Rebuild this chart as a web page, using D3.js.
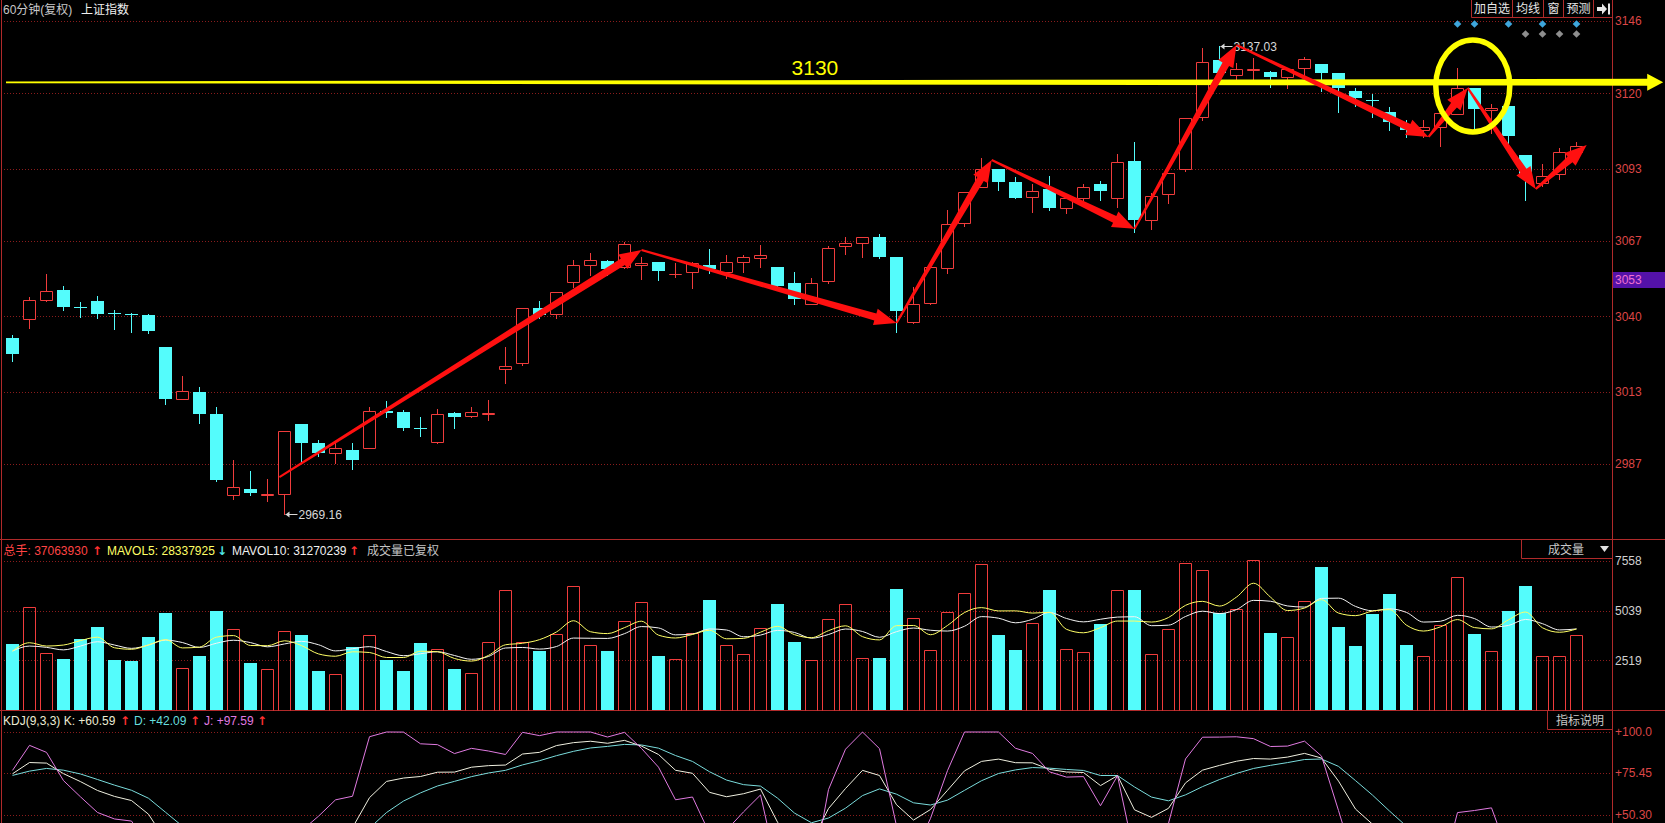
<!DOCTYPE html>
<html><head><meta charset="utf-8">
<script src="https://cdn.jsdelivr.net/npm/d3@7"></script>
<style>
html,body{margin:0;padding:0;background:#000;overflow:hidden;}
svg{display:block;font-family:"Liberation Sans",Arial,"Noto Sans CJK SC",sans-serif;}
</style></head><body>
<svg id="c" width="1665" height="823"></svg>
<script>
// ---------------- DATA ----------------
const opens  = [3032.4,3039.2,3046.0,3049.4,3043.2,3045.5,3041.2,3041.0,3040.5,3029.0,
  3010.4,3012.8,3004.9,2975.7,2978.2,2975.9,2976.4,3001.3,2994.7,2990.8,
  2992.2,2992.9,3006.2,3005.8,2999.8,2995.0,3005.2,3004.1,3005.1,3021.2,
  3023.1,3042.9,3040.7,3052.5,3058.5,3059.7,3057.8,3058.3,3059.4,3055.1,
  3055.8,3058.6,3056.0,3059.4,3060.8,3057.7,3051.8,3044.6,3052.8,3065.4,
  3066.4,3068.3,3061.3,3038.1,3044.9,3057.5,3073.4,3086.5,3092.9,3088.1,
  3082.7,3085.6,3078.8,3082.6,3087.5,3082.4,3095.8,3074.4,3083.8,3092.9,
  3111.5,3132.0,3126.5,3128.4,3127.7,3126.0,3129.0,3130.6,3127.5,3121.0,
  3117.6,3113.5,3109.1,3106.9,3107.9,3112.5,3121.9,3114.1,3115.5,3097.9,
  3088.0,3091.1,3099.1];
const highs  = [3033.3,3046.8,3055.2,3050.9,3045.1,3047.3,3042.3,3041.3,3040.8,3029.0,
  3018.6,3014.6,3007.5,2988.4,2984.6,2981.5,2998.7,3001.5,2995.5,2995.0,
  2994.7,3007.5,3009.5,3006.4,3003.7,3006.7,3005.8,3007.4,3009.8,3029.1,
  3042.9,3045.5,3048.6,3060.2,3062.6,3060.2,3066.8,3061.4,3059.4,3059.3,
  3059.6,3064.2,3062.0,3062.0,3065.6,3057.7,3055.8,3053.9,3065.2,3068.6,
  3068.3,3069.5,3061.3,3050.6,3057.7,3078.2,3084.5,3096.7,3092.9,3089.9,
  3087.4,3090.4,3082.6,3087.5,3088.4,3098.3,3102.5,3084.2,3091.3,3111.1,
  3136.2,3137.03,3130.8,3132.6,3128.0,3129.0,3133.2,3130.6,3127.5,3121.9,
  3119.7,3115.0,3110.5,3110.5,3112.9,3129.0,3121.9,3116.2,3115.5,3097.9,
  3094.7,3100.3,3102.7];
const lows   = [3024.1,3035.9,3045.6,3042.3,3039.9,3039.5,3035.4,3034.5,3033.9,3008.4,
  3010.4,3001.8,2980.9,2974.3,2975.7,2973.7,2969.16,2988.0,2989.8,2987.4,
  2985.2,2992.9,3003.7,2999.2,2997.1,2994.4,3000.0,3003.7,3002.8,3015.9,
  3022.5,3039.5,3039.3,3050.6,3054.8,3054.8,3057.2,3053.3,3053.0,3054.2,
  3050.0,3055.4,3053.9,3056.0,3057.6,3050.6,3044.3,3044.4,3052.1,3062.4,
  3061.4,3060.8,3034.5,3037.5,3044.6,3055.7,3072.4,3086.5,3085.3,3082.6,
  3077.6,3078.2,3077.2,3081.8,3081.8,3079.4,3070.4,3071.2,3080.6,3092.0,
  3110.5,3127.5,3125.1,3124.9,3122.2,3121.9,3124.9,3120.7,3113.5,3115.5,
  3111.5,3106.7,3104.5,3104.5,3101.2,3112.5,3107.5,3105.7,3101.5,3081.8,
  3086.6,3089.2,3098.5];
const closes = [3026.6,3045.7,3049.2,3043.5,3043.0,3041.0,3041.0,3040.9,3034.8,3010.3,
  3013.1,3005.0,2981.3,2978.6,2976.6,2976.1,2998.7,2994.7,2990.8,2992.9,
  2988.5,3006.2,3005.4,3000.0,2999.5,3004.9,3003.7,3005.8,3005.3,3022.2,
  3042.9,3040.3,3048.6,3058.3,3060.2,3057.1,3065.8,3059.0,3056.4,3055.3,
  3059.0,3056.9,3059.4,3061.2,3062.0,3051.0,3046.1,3051.8,3064.4,3066.2,
  3068.3,3061.4,3042.0,3044.6,3057.7,3073.0,3084.5,3092.8,3088.3,3082.6,
  3085.1,3078.8,3082.6,3086.5,3085.1,3095.3,3074.4,3083.2,3091.3,3111.1,
  3131.2,3127.5,3128.7,3128.6,3125.8,3128.7,3132.3,3127.5,3121.9,3118.3,
  3117.3,3109.7,3106.9,3107.9,3112.9,3121.9,3114.3,3114.9,3104.9,3090.2,
  3090.5,3098.9,3101.2];
const volumes = [3345,5221,2873,2585,3582,4207,2534,2484,3700,4917,
  2112,2737,5018,4089,2399,2061,3987,3802,1977,1808,
  3193,3802,2534,1977,3396,3075,2078,1875,3430,6083,
  3463,2990,3835,6269,3295,2990,4511,5457,2737,2568,
  3886,5576,3295,2839,4139,5373,3463,2534,4613,5373,
  2619,2636,6150,4663,3024,4968,5913,7400,3819,3041,
  4410,6100,3092,2940,4342,6083,6100,2839,4089,7434,
  7097,4900,5120,7603,3903,3700,5525,7249,4207,3244,
  4883,5880,3295,2720,4309,6725,3852,2974,5018,6285,
  2720,2720,3802];
// moving-average values at the start of the window (need bars before the first one)
const ma5Head  = [2990,3412,3244,3295];
const ma10Head = [2990,3244,3177,3050,3244,3463,3295,3126,3295];
// KDJ values at the first bar
const kdjStartK = 75, kdjStartD = 74;

const priceTicks  = [3146,3120,3093,3067,3040,3013,2987];
const volumeTicks = [7558,5039,2519];
const kdjTicks    = [100,75.45,50.30];
const kdjTickLabels = ["+100.0","+75.45","+50.30"];
const currentPrice = 3053;

// annotations (candle index, price)
const zigzag = [[15.7,2982.3],[37.0,3063.8],[52.0,3037.6],[57.6,3096.1],[66.0,3071.4],
                [72.0,3137.4],[83.3,3104.4],[85.6,3122.0],[89.6,3085.7],[92.6,3101.5]];
const resistanceLevel = 3124, resistanceText = "3130", resistanceFrom = -0.38, resistanceTo = 97.1, resistanceTextAt = 47.2;
const circleCenter = [85.9, 3122.7];
const lowMark  = {i:16, v:2969.16, t:"2969.16"};
const highMark = {i:71, v:3137.03, t:"3137.03"};
const blueSignals = [85,86,88,90,92];
const greySignals = [89,90,91,92];

const titleText = ["60分钟(复权)", "上证指数"];
const buttons = ["加自选","均线","窗","预测"];

// ---------------- LAYOUT ----------------
const W=1665, H=823, axisX=1612;
const RED="#f03c3c", CYAN="#54fcfc", GRID="#8a1c1c", FRAME="#b02a2a", AXT="#dc4646";
const svg=d3.select("#c");
svg.append("rect").attr("width",W).attr("height",H).attr("fill","#000");

const n=closes.length;
const x  = d3.scaleLinear().domain([0,n-1]).range([12.5,12.5+17*(n-1)]);
const yP = d3.scaleLinear().domain([2987,3146]).range([464,21]);
const yV = d3.scaleLinear().domain([0,7558]).range([710,561]);
const yK = d3.scaleLinear().domain([50.3,100]).range([815,732]);

const data = closes.map((c,i)=>({i,o:opens[i],h:highs[i],l:lows[i],c,v:volumes[i],up:c>=opens[i]}));

// grids
const gridG=svg.append("g");
[[priceTicks,yP],[volumeTicks,yV],[kdjTicks,yK]].forEach(([t,s])=>{
  gridG.append("g").selectAll("line").data(t).join("line")
    .attr("x1",4).attr("x2",axisX)
    .attr("y1",d=>Math.round(s(d))+0.5).attr("y2",d=>Math.round(s(d))+0.5)
    .attr("stroke",GRID).attr("stroke-dasharray","1,2");
});

// frame lines
const fr=svg.append("g").attr("stroke",FRAME).attr("stroke-width",1);
fr.append("line").attr("x1",axisX+0.5).attr("x2",axisX+0.5).attr("y1",0).attr("y2",H);
fr.append("line").attr("x1",1.5).attr("x2",1.5).attr("y1",0).attr("y2",H);
fr.append("line").attr("x1",0).attr("x2",W).attr("y1",539.5).attr("y2",539.5);
fr.append("line").attr("x1",0).attr("x2",W).attr("y1",710.5).attr("y2",710.5);

// axes
function styleAxis(g,col){
  g.select(".domain").remove();
  g.selectAll("text").attr("fill",col).attr("font-size",12).attr("font-family","Liberation Sans, Arial, sans-serif");
}
svg.append("g").attr("transform",`translate(${axisX},0)`)
  .call(d3.axisRight(yP).tickValues(priceTicks).tickSize(0).tickPadding(3).tickFormat(d3.format("d")))
  .call(g=>styleAxis(g,AXT));
svg.append("g").attr("transform",`translate(${axisX},0)`)
  .call(d3.axisRight(yV).tickValues(volumeTicks).tickSize(0).tickPadding(3).tickFormat(d3.format("d")))
  .call(g=>styleAxis(g,"#d0d0d0"));
svg.append("g").attr("transform",`translate(${axisX},0)`)
  .call(d3.axisRight(yK).tickValues(kdjTicks).tickSize(0).tickPadding(3).tickFormat((d,i)=>kdjTickLabels[i]))
  .call(g=>styleAxis(g,AXT));

// current price marker
svg.append("rect").attr("x",axisX+1).attr("y",Math.round(yP(currentPrice))-8).attr("width",W-axisX-1).attr("height",16).attr("fill","#5412a8");
svg.append("text").attr("x",axisX+3).attr("y",yP(currentPrice)).attr("dy","0.35em").attr("font-size",12).attr("fill","#f070d0").text(currentPrice);

// ---------------- CANDLES ----------------
const cg=svg.append("g");
cg.selectAll("line.wick").data(data).join("line").attr("class","wick")
  .attr("x1",d=>x(d.i)).attr("x2",d=>x(d.i))
  .attr("y1",d=>Math.round(yP(d.h))).attr("y2",d=>Math.round(yP(d.l))+1)
  .attr("stroke",d=>d.up?RED:CYAN).attr("stroke-width",1);
cg.selectAll("path.body").data(data).join("path").attr("class","body")
  .attr("d",d=>{
    const cx=x(d.i);
    let t=Math.round(yP(Math.max(d.o,d.c))), b=Math.round(yP(Math.min(d.o,d.c)));
    if(d.up){ const x0=cx-6, x1=cx+6; return `M${x0},${t+0.5}H${x1}V${b+0.5}H${x0}Z`; }
    if(b-t<1) b=t+1;
    const x0=cx-6.5, x1=cx+6.5; return `M${x0},${t}H${x1}V${b}H${x0}Z`;
  })
  .attr("fill",d=>d.up?"#000":CYAN).attr("stroke",d=>d.up?RED:"none").attr("stroke-width",1);

// ---------------- VOLUME ----------------
const vg=svg.append("g");
vg.selectAll("path").data(data).join("path")
  .attr("d",d=>{
    const cx=x(d.i), t=Math.round(yV(d.v));
    if(d.up) return `M${cx-6},710.5V${t+0.5}H${cx+6}V710.5`;
    return `M${cx-6.5},${t}H${cx+6.5}V710H${cx-6.5}Z`;
  })
  .attr("fill",d=>d.up?"none":CYAN).attr("stroke",d=>d.up?RED:"none");
function ma(len,head){
  return volumes.map((v,i)=> i<head.length ? head[i] : d3.mean(volumes.slice(i-len+1,i+1)));
}
const ma5=ma(5,ma5Head), ma10=ma(10,ma10Head);
const vline=d3.line().x((d,i)=>x(i)).y(d=>yV(d)).curve(d3.curveMonotoneX);
vg.append("path").attr("d",vline(ma10)).attr("fill","none").attr("stroke","#f4f4f4").attr("stroke-width",1);
vg.append("path").attr("d",vline(ma5)).attr("fill","none").attr("stroke","#ffff66").attr("stroke-width",1);

// ---------------- KDJ ----------------
const K=[kdjStartK], D=[kdjStartD], J=[3*kdjStartK-2*kdjStartD];
for(let i=1;i<n;i++){
  const s=Math.max(0,i-8);
  const ll=d3.min(lows.slice(s,i+1)), hh=d3.max(highs.slice(s,i+1));
  const rsv = hh===ll?50:(closes[i]-ll)/(hh-ll)*100;
  const k=(2*K[i-1]+rsv)/3, d=(2*D[i-1]+k)/3;
  K.push(k); D.push(d); J.push(3*k-2*d);
}
svg.append("clipPath").attr("id","kclip").append("rect").attr("x",3).attr("y",711).attr("width",axisX-3).attr("height",H-711);
const kg=svg.append("g").attr("clip-path","url(#kclip)");
const kline=d3.line().x((d,i)=>x(i)).y(d=>yK(Math.min(100,Math.max(-20,d))));
kg.append("path").attr("d",kline(D)).attr("fill","none").attr("stroke","#7adcdc");
kg.append("path").attr("d",kline(K)).attr("fill","none").attr("stroke","#f0f0e0");
kg.append("path").attr("d",kline(J)).attr("fill","none").attr("stroke","#e07ae0");

// ---------------- HEADERS ----------------
function txt(xp,yp,s,col,size=12,extra={}){
  const t=svg.append("text").attr("x",xp).attr("y",yp).attr("font-size",size).attr("fill",col).text(s);
  Object.entries(extra).forEach(([k,v])=>t.attr(k,v));
  return t;
}
const ARW={"font-family":"DejaVu Sans","font-weight":"bold"};
txt(3,14,titleText[0],"#c8c8c8");
txt(81,14,titleText[1],"#f0f0f0");

txt(3.5,555,"总手: 37063930","#ff4444");
txt(92,555,"↑","#ff3030",12,ARW);
txt(107,555,"MAVOL5: 28337925","#ffff66");
txt(217,555,"↓","#50e8e8",12,ARW);
txt(232,555,"MAVOL10: 31270239","#f0f0f0");
txt(349,555,"↑","#ff3030",12,ARW);
txt(367,555,"成交量已复权","#c4c4c4");

txt(3,725,"KDJ(9,3,3) K: +60.59","#ececd4");
txt(120,725,"↑","#ff3030",12,ARW);
txt(134,725,"D: +42.09","#66dede");
txt(190,725,"↑","#ff3030",12,ARW);
txt(204,725,"J: +97.59","#e07ae0");
txt(257,725,"↑","#ff3030",12,ARW);

// top right buttons
const bx=[1471,1512,1543,1563,1593,axisX];
svg.append("path").attr("d",`M${bx[0]+0.5},0V17.5H${axisX}`).attr("fill","none").attr("stroke",FRAME);
svg.selectAll("line.sep").data(bx.slice(1,5)).join("line").attr("class","sep")
  .attr("x1",d=>d+0.5).attr("x2",d=>d+0.5).attr("y1",0).attr("y2",17.5).attr("stroke",FRAME);
svg.selectAll("text.btn").data(buttons).join("text").attr("class","btn")
  .attr("x",(d,i)=>(bx[i]+bx[i+1])/2+0.5).attr("y",13).attr("text-anchor","middle")
  .attr("font-size",12).attr("fill","#e6e6e6").text(d=>d);
svg.append("path").attr("d","M1597,7H1602V3.5L1607,9L1602,14.5V11H1597Z M1608,3.5H1610V14.5H1608Z").attr("fill","#e8e8e8");

// signal diamonds
const dia=s=>`M0,${-s}L${s},0L0,${s}L${-s},0Z`;
svg.selectAll("path.bd").data(blueSignals).join("path").attr("class","bd")
  .attr("transform",d=>`translate(${x(d)},24)`).attr("d",dia(3.8)).attr("fill","#3ea6dc");
svg.selectAll("path.gd").data(greySignals).join("path").attr("class","gd")
  .attr("transform",d=>`translate(${x(d)},34)`).attr("d",dia(3.8)).attr("fill","#8e8e8e");

// 成交量 box and 指标说明 box
svg.append("path").attr("d",`M${axisX},558.5H1521.5V540`).attr("fill","none").attr("stroke",FRAME);
txt(1566,554,"成交量","#c8c8c8",12,{"text-anchor":"middle"});
svg.append("path").attr("d","M1600,546H1609L1604.5,552Z").attr("fill","#e0e0e0");
svg.append("path").attr("d",`M${axisX},729.5H1547.5V711`).attr("fill","none").attr("stroke",FRAME);
txt(1580,725,"指标说明","#c8c8c8",12,{"text-anchor":"middle"});

// low / high marks
[lowMark,highMark].forEach(m=>{
  const cx=x(m.i)+1, cy=Math.round(yP(m.v))+0.5;
  svg.append("line").attr("x1",cx).attr("x2",cx+12).attr("y1",cy).attr("y2",cy).attr("stroke","#d8d8d8");
  svg.append("path").attr("d",`M${cx},${cy}l4,-3v6z`).attr("fill","#d8d8d8");
  txt(cx+13,cy,m.t,"#d8d8d8",12,{"dy":"0.35em"});
});

// ---------------- ANNOTATIONS ----------------
function arrowPoly(x1,y1,x2,y2,w0,w1,hl,hw){
  const dx=x2-x1, dy=y2-y1, L=Math.hypot(dx,dy), ux=dx/L, uy=dy/L, nx=-uy, ny=ux;
  const bx=x2-ux*hl, by=y2-uy*hl;
  const p=[[x1+nx*w0/2,y1+ny*w0/2],[bx+nx*w1/2,by+ny*w1/2],[bx+nx*hw,by+ny*hw],[x2,y2],
           [bx-nx*hw,by-ny*hw],[bx-nx*w1/2,by-ny*w1/2],[x1-nx*w0/2,y1-ny*w0/2]];
  return "M"+p.map(q=>q[0].toFixed(1)+","+q[1].toFixed(1)).join("L")+"Z";
}
// yellow resistance line
const ry=yP(resistanceLevel);
svg.append("path").attr("d",arrowPoly(x(resistanceFrom),ry,x(resistanceTo),ry,1.8,7,16,8.5)).attr("fill","#ffff00");
txt(x(resistanceTextAt),ry-7,resistanceText,"#ffff00",21,{"text-anchor":"middle"});

// red zigzag arrows
const segs=d3.pairs(zigzag);
svg.append("g").selectAll("path").data(segs).join("path")
  .attr("d",([a,b])=>arrowPoly(x(a[0]),yP(a[1]),x(b[0]),yP(b[1]),2,7.5,22,8.5))
  .attr("fill","#ff1010");

// yellow ellipse
svg.append("ellipse").attr("cx",x(circleCenter[0])).attr("cy",yP(circleCenter[1]))
  .attr("rx",37).attr("ry",46).attr("fill","none").attr("stroke","#ffff00").attr("stroke-width",5.5);
</script>
</body></html>
